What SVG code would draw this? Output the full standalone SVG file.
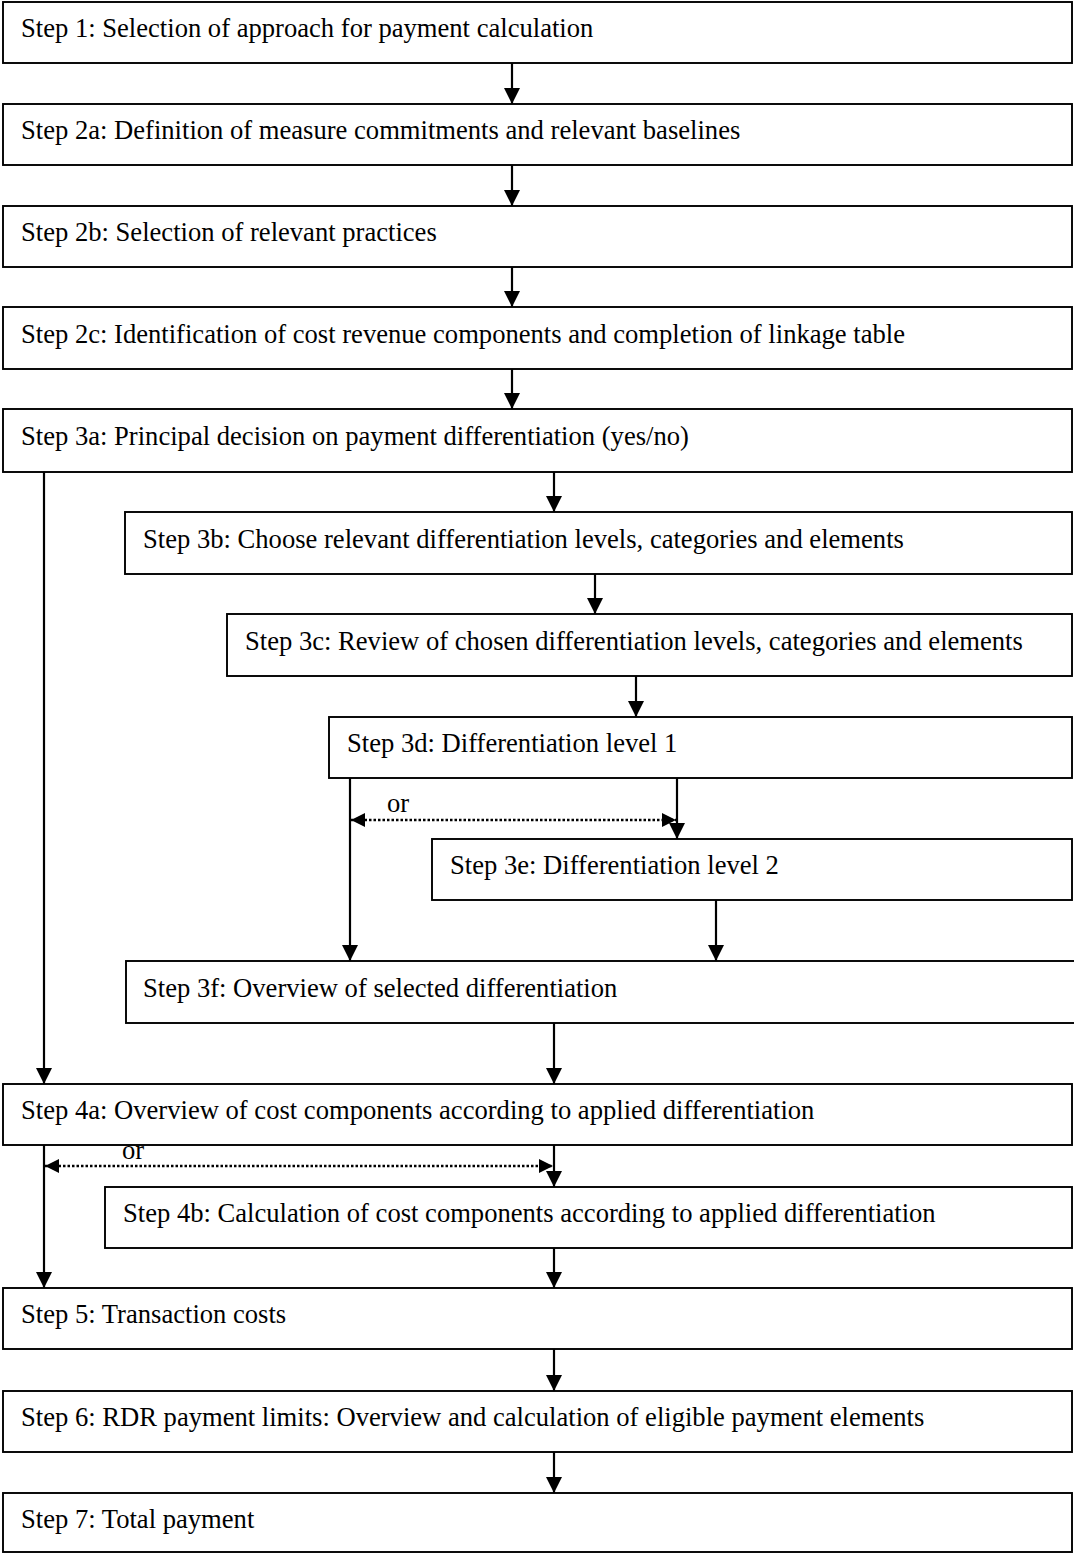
<svg xmlns="http://www.w3.org/2000/svg" width="1074" height="1553" viewBox="0 0 1074 1553">
<style>
.box{fill:#fff;stroke:#000;stroke-width:1.9}
.t{font-family:"Liberation Serif","Times New Roman",serif;font-size:26.6px;fill:#000}
.c{fill:none;stroke:#000;stroke-width:2.2}
.d{fill:none;stroke:#000;stroke-width:2.5;stroke-dasharray:2.5 2}
</style>
<defs>
<marker id="ah" markerUnits="userSpaceOnUse" markerWidth="16" markerHeight="16" refX="16" refY="8" orient="auto"><path d="M0,0 L16,8 L0,16 z" fill="#000"/></marker>
<marker id="dh" markerUnits="userSpaceOnUse" markerWidth="14" markerHeight="14" refX="14" refY="7" orient="auto-start-reverse"><path d="M0,0 L14,7 L0,14 z" fill="#000"/></marker>
</defs>
<rect width="1074" height="1553" fill="#fff"/>
<g id="s1"><rect class="box" x="3" y="2" width="1069" height="61"/><text class="t" x="21" y="37">Step 1: Selection of approach for payment calculation</text></g>
<g id="s2a"><rect class="box" x="3" y="104" width="1069" height="61"/><text class="t" x="21" y="139">Step 2a: Definition of measure commitments and relevant baselines</text></g>
<g id="s2b"><rect class="box" x="3" y="206" width="1069" height="61"/><text class="t" x="21" y="241">Step 2b: Selection of relevant practices</text></g>
<g id="s2c"><rect class="box" x="3" y="307" width="1069" height="62"/><text class="t" x="21" y="343">Step 2c: Identification of cost revenue components and completion of linkage table</text></g>
<g id="s3a"><rect class="box" x="3" y="409" width="1069" height="63"/><text class="t" x="21" y="445">Step 3a: Principal decision on payment differentiation (yes/no)</text></g>
<g id="s3b"><rect class="box" x="125" y="512" width="947" height="62"/><text class="t" x="143" y="548">Step 3b: Choose relevant differentiation levels, categories and elements</text></g>
<g id="s3c"><rect class="box" x="227" y="614" width="845" height="62"/><text class="t" x="245" y="650">Step 3c: Review of chosen differentiation levels, categories and elements</text></g>
<g id="s3d"><rect class="box" x="329" y="717" width="743" height="61"/><text class="t" x="347" y="752">Step 3d: Differentiation level 1</text></g>
<g id="s3e"><rect class="box" x="432" y="839" width="640" height="61"/><text class="t" x="450" y="874">Step 3e: Differentiation level 2</text></g>
<g id="s3f"><rect class="box" x="126" y="961" width="960" height="62"/><text class="t" x="143" y="997">Step 3f: Overview of selected differentiation</text></g>
<g id="s4a"><rect class="box" x="3" y="1084" width="1069" height="61"/><text class="t" x="21" y="1119">Step 4a: Overview of cost components according to applied differentiation</text></g>
<g id="s4b"><rect class="box" x="105" y="1187" width="967" height="61"/><text class="t" x="123" y="1222">Step 4b: Calculation of cost components according to applied differentiation</text></g>
<g id="s5"><rect class="box" x="3" y="1288" width="1069" height="61"/><text class="t" x="21" y="1323">Step 5: Transaction costs</text></g>
<g id="s6"><rect class="box" x="3" y="1391" width="1069" height="61"/><text class="t" x="21" y="1426">Step 6: RDR payment limits: Overview and calculation of eligible payment elements</text></g>
<g id="s7"><rect class="box" x="3" y="1493" width="1069" height="59"/><text class="t" x="21" y="1528">Step 7: Total payment</text></g>
<g id="connectors">
<line class="c" x1="512" y1="63" x2="512" y2="104" marker-end="url(#ah)"/>
<line class="c" x1="512" y1="165" x2="512" y2="206" marker-end="url(#ah)"/>
<line class="c" x1="512" y1="267" x2="512" y2="307" marker-end="url(#ah)"/>
<line class="c" x1="512" y1="369" x2="512" y2="409" marker-end="url(#ah)"/>
<line class="c" x1="554" y1="472" x2="554" y2="512" marker-end="url(#ah)"/>
<line class="c" x1="595" y1="574" x2="595" y2="614" marker-end="url(#ah)"/>
<line class="c" x1="636" y1="676" x2="636" y2="717" marker-end="url(#ah)"/>
<line class="c" x1="44" y1="472" x2="44" y2="1084" marker-end="url(#ah)"/>
<line class="c" x1="350" y1="778" x2="350" y2="961" marker-end="url(#ah)"/>
<line class="c" x1="677" y1="778" x2="677" y2="839" marker-end="url(#ah)"/>
<line class="c" x1="716" y1="900" x2="716" y2="961" marker-end="url(#ah)"/>
<line class="d" x1="351" y1="820" x2="676" y2="820" marker-start="url(#dh)" marker-end="url(#dh)"/>
<text class="t" x="387" y="812">or</text>
<line class="c" x1="554" y1="1023" x2="554" y2="1084" marker-end="url(#ah)"/>
<line class="c" x1="554" y1="1145" x2="554" y2="1187" marker-end="url(#ah)"/>
<line class="c" x1="44" y1="1145" x2="44" y2="1288" marker-end="url(#ah)"/>
<line class="d" x1="45" y1="1166" x2="553" y2="1166" marker-start="url(#dh)" marker-end="url(#dh)"/>
<text class="t" x="122" y="1159">or</text>
<line class="c" x1="554" y1="1248" x2="554" y2="1288" marker-end="url(#ah)"/>
<line class="c" x1="554" y1="1349" x2="554" y2="1391" marker-end="url(#ah)"/>
<line class="c" x1="554" y1="1452" x2="554" y2="1493" marker-end="url(#ah)"/>
</g>
</svg>
